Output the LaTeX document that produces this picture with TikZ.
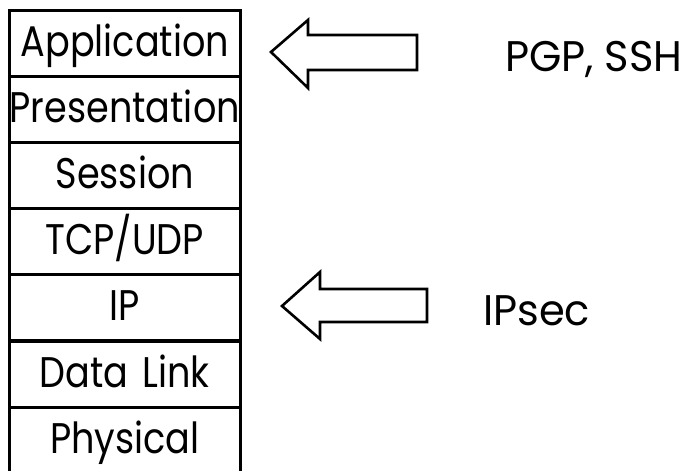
\documentclass[tikz,border=0pt]{standalone}
\usepackage{fontspec}
\setmainfont{Poppins}[FakeStretch=0.855]
\newfontfamily\sidefont{Poppins}[FakeStretch=0.97]
\begin{document}
\begin{tikzpicture}[x=1bp,y=-1bp,
  layer/.style={draw,line width=2.6bp,minimum height=66bp,
    text width=231bp,align=center,
    text height=38bp,text depth=12bp,inner xsep=0pt,inner ysep=8bp,
    anchor=north west,font=\fontsize{43}{45}\selectfont},
  hollow/.style={draw,line width=2.6bp,line join=miter,fill=white},
  lbl/.style={anchor=base west,font=\sidefont\fontsize{43}{45}\selectfont,inner sep=0pt}]
\useasboundingbox (0,0) rectangle (694,471);
% protocol stack
\node[layer] (app)  at (8,9)   {Application};
\node[layer] (pres) at (8,75)  {Presentation};
\node[layer] (sess) at (8,141) {Session};
\node[layer] (tcp)  at (8,207) {TCP/UDP};
\node[layer] (ip)   at (8,273) {IP};
\node[layer] (dl)   at (8,340) {Data Link};
\node[layer] (phy)  at (8,406) {Physical};
% block arrows pointing at the layers
\draw[hollow] (271,52) -- (308,20) -- (308,35) -- (417,35) -- (417,70) -- (308,70) -- (308,88) -- cycle;
\draw[hollow] (282,306) -- (320,272) -- (320,289) -- (427,289) -- (427,322) -- (320,322) -- (320,339) -- cycle;
% labels
\node[lbl] (pgp) at (505,72) {PGP, SSH};
\node[lbl] (ipsec) at (483,326) {IPsec};
\end{tikzpicture}
\end{document}
